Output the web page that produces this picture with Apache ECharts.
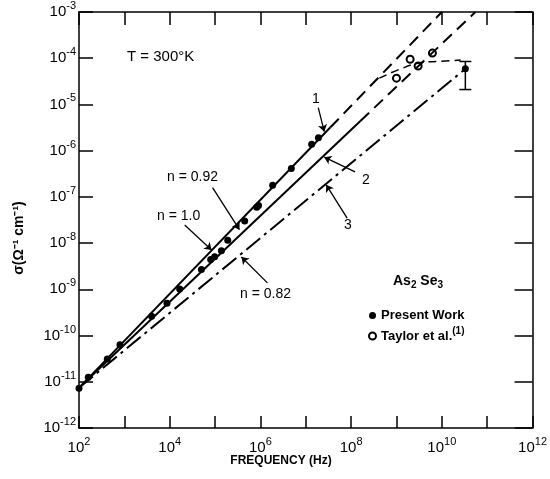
<!DOCTYPE html>
<html lang="en">
<head>
    <meta charset="UTF-8">
    <title>As2Se3 conductivity</title>
    <style>
        html, body { margin: 0; padding: 0; background: #fff; }
    </style>
</head>
<body>

<div id="main" style="width: 550px; height: 479px;"></div>

<script src="https://cdn.jsdelivr.net/npm/echarts@6/dist/echarts.min.js"></script>
<script>
    // present work (filled dots)
    var freq = [1.0e2, 1.6e2, 4.2e2, 8.0e2, 4.0e3, 8.7e3, 1.66e4, 5.0e4, 8.0e4, 9.8e4,
        1.38e5, 1.9e5, 4.5e5, 8.3e5, 9.1e5, 1.86e6, 4.8e6, 1.35e7, 1.9e7, 3.3e10];
    var sigma = [7.2e-12, 1.26e-11, 3.1e-11, 6.3e-11, 2.6e-10, 5.0e-10, 1.02e-9, 2.7e-9, 4.4e-9, 5.1e-9,
        6.8e-9, 1.15e-8, 3.0e-8, 6.0e-8, 6.5e-8, 1.78e-7, 4.1e-7, 1.38e-6, 1.9e-6, 5.9e-5];

    // error bar on the highest frequency point
    var errFreq = [3.3e10];
    var errLow = [2.1e-5];
    var errHigh = [8.5e-5];

    // Taylor et al. (open circles) and their dashed curve
    var taylorFreq = [1.0e9, 2.0e9, 3.0e9, 6.2e9];
    var taylorSigma = [3.7e-5, 9.5e-5, 6.8e-5, 1.29e-4];
    var taylorCurveFreq = [4.2e8, 1.3e9, 3.6e9, 8.5e9, 2.6e10];
    var taylorCurveSigma = [3.7e-5, 6.0e-5, 8.1e-5, 8.5e-5, 9.1e-5];

    // fitted lines 1 (n=1.0), 2 (n=0.92), 3 (n=0.82)
    var line1Freq = [1e2, 3.5e7, 1e10];
    var line1Sigma = [7.4e-12, 3.2e-6, 1e-3];
    var line2Freq = [1e2, 1.6e8, 5.5e10];
    var line2Sigma = [7.4e-12, 4.4e-6, 1e-3];
    var line3Freq = [1e2, 3.3e10];
    var line3Sigma = [7.4e-12, 5.9e-5];

    // arrows [log f, log sigma] from -> to
    var arrows = [
        [[7.275, -5.07], [7.407, -5.59]],
        [[8.088, -6.46], [7.407, -6.14]],
        [[7.912, -7.46], [7.451, -6.74]],
        [[4.945, -6.80], [5.538, -7.71]],
        [[4.330, -7.61], [4.923, -8.15]],
        [[6.154, -8.86], [5.582, -8.30]]
    ];

    function pairs(xs, ys) {
        var out = [];
        for (var i = 0; i < xs.length; i++) out.push([xs[i], ys[i]]);
        return out;
    }

    function supLabel(v) {
        var e = Math.round(Math.log10(v));
        return '{b|10}{s|' + e + '}';
    }

    var FONT = 'Liberation Sans';
    var labelRich = {
        b: {fontSize: 15, fontFamily: FONT, color: '#000'},
        s: {fontSize: 11, fontFamily: FONT, color: '#000', padding: [0, 0, 12, 0]}
    };
    var axisStyle = {color: '#000', width: 1.5};

    var myChart = echarts.init(document.getElementById('main'));

    var option = {
        animation: false,
        grid: {left: 79, right: 16, top: 12, bottom: 51},
        xAxis: [{
            type: 'log', logBase: 10, min: 1e2, max: 1e12, interval: 1,
            axisLine: {lineStyle: axisStyle},
            axisTick: {inside: true, length: 12, lineStyle: axisStyle},
            axisLabel: {
                margin: 8, showMinLabel: true, showMaxLabel: true, rich: labelRich,
                formatter: function (v) {
                    var e = Math.round(Math.log10(v));
                    return e % 2 === 0 ? supLabel(v) : '';
                }
            },
            splitLine: {show: false}, minorTick: {show: false}
        }, {
            type: 'log', logBase: 10, min: 1e2, max: 1e12, interval: 1, position: 'top',
            axisLine: {lineStyle: axisStyle},
            axisTick: {inside: true, length: 13, lineStyle: axisStyle},
            axisLabel: {show: false}, splitLine: {show: false}
        }],
        yAxis: [{
            type: 'log', logBase: 10, min: 1e-12, max: 1e-3, interval: 1,
            axisLine: {lineStyle: axisStyle},
            axisTick: {inside: true, length: 14, lineStyle: axisStyle},
            axisLabel: {margin: 3, rich: labelRich, formatter: supLabel, showMinLabel: true, showMaxLabel: true},
            splitLine: {show: false}
        }, {
            type: 'log', logBase: 10, min: 1e-12, max: 1e-3, interval: 1, position: 'right',
            axisLine: {lineStyle: axisStyle},
            axisTick: {inside: true, length: 18, lineStyle: axisStyle},
            axisLabel: {show: false}, splitLine: {show: false}
        }],
        legend: {
            orient: 'vertical', left: 363, top: 304, itemGap: 4,
            itemWidth: 7, itemHeight: 7,
            textStyle: {
                fontFamily: FONT, fontWeight: 'bold', fontSize: 13, color: '#000',
                rich: {
                    a: {fontFamily: FONT, fontWeight: 'bold', fontSize: 13, color: '#000'},
                    s: {fontFamily: FONT, fontWeight: 'bold', fontSize: 10, color: '#000', padding: [0, 0, 10, 0]}
                }
            },
            formatter: function (name) {
                return name === 'Taylor et al.' ? '{a|Taylor et al.}{s|(1)}' : '{a|' + name + '}';
            },
            data: ['Present Work', 'Taylor et al.']
        },
        series: [
            {
                name: 'line1', type: 'line', symbol: 'none', silent: true,
                data: pairs(line1Freq.slice(0, 2), line1Sigma.slice(0, 2)),
                lineStyle: {color: '#000', width: 2},
                markLine: {
                    silent: true, symbol: ['none', 'arrow'], symbolSize: 7,
                    label: {show: false},
                    lineStyle: {color: '#000', width: 1.3, type: 'solid'},
                    data: arrows.map(function (a) {
                        return [
                            {coord: [Math.pow(10, a[0][0]), Math.pow(10, a[0][1])]},
                            {coord: [Math.pow(10, a[1][0]), Math.pow(10, a[1][1])]}
                        ];
                    })
                }
            },
            {
                name: 'line1dash', type: 'line', symbol: 'none', silent: true,
                data: pairs(line1Freq.slice(1), line1Sigma.slice(1)),
                lineStyle: {color: '#000', width: 2, type: [12, 7]}
            },
            {
                name: 'line2', type: 'line', symbol: 'none', silent: true,
                data: pairs(line2Freq.slice(0, 2), line2Sigma.slice(0, 2)),
                lineStyle: {color: '#000', width: 2}
            },
            {
                name: 'line2dash', type: 'line', symbol: 'none', silent: true,
                data: pairs(line2Freq.slice(1), line2Sigma.slice(1)),
                lineStyle: {color: '#000', width: 2, type: [12, 7]}
            },
            {
                name: 'line3', type: 'line', symbol: 'none', silent: true,
                data: pairs(line3Freq, line3Sigma),
                lineStyle: {color: '#000', width: 2, type: [18, 5, 3, 5]}
            },
            {
                name: 'taylorCurve', type: 'line', symbol: 'none', smooth: 0.4, silent: true,
                data: pairs(taylorCurveFreq, taylorCurveSigma),
                lineStyle: {color: '#000', width: 1.5, type: [8, 5]}
            },
            {
                name: 'errbar', type: 'custom', silent: true,
                data: errFreq.map(function (f, i) { return [f, errLow[i], errHigh[i]]; }),
                encode: {x: 0, y: [1, 2]},
                renderItem: function (params, api) {
                    var top = api.coord([api.value(0), api.value(2)]);
                    var bot = api.coord([api.value(0), api.value(1)]);
                    var w = 6;
                    var st = {stroke: '#000', lineWidth: 1.5};
                    return {
                        type: 'group',
                        children: [
                            {type: 'line', shape: {x1: top[0], y1: top[1], x2: bot[0], y2: bot[1]}, style: st},
                            {type: 'line', shape: {x1: top[0] - w, y1: top[1], x2: top[0] + w, y2: top[1]}, style: st},
                            {type: 'line', shape: {x1: bot[0] - w, y1: bot[1], x2: bot[0] + w, y2: bot[1]}, style: st}
                        ]
                    };
                }
            },
            {
                name: 'Present Work', type: 'scatter', symbol: 'circle', symbolSize: 7,
                itemStyle: {color: '#000', opacity: 1},
                data: pairs(freq, sigma)
            },
            {
                name: 'Taylor et al.', type: 'scatter', symbol: 'emptyCircle', symbolSize: 7,
                itemStyle: {color: '#000', borderColor: '#000', borderWidth: 1.3, opacity: 1},
                data: pairs(taylorFreq, taylorSigma)
            }
        ],
        graphic: [
            {type: 'text', left: 127, top: 49, style: {text: 'T = 300°K', font: '15px Liberation Sans', fill: '#000'}},
            {type: 'text', left: 312, top: 92, style: {text: '1', font: '14px Liberation Sans', fill: '#000'}},
            {type: 'text', left: 362, top: 173, style: {text: '2', font: '14px Liberation Sans', fill: '#000'}},
            {type: 'text', left: 344, top: 218, style: {text: '3', font: '14px Liberation Sans', fill: '#000'}},
            {type: 'text', left: 167, top: 170, style: {text: 'n = 0.92', font: '14px Liberation Sans', fill: '#000'}},
            {type: 'text', left: 157, top: 209, style: {text: 'n = 1.0', font: '14px Liberation Sans', fill: '#000'}},
            {type: 'text', left: 240, top: 287, style: {text: 'n = 0.82', font: '14px Liberation Sans', fill: '#000'}},
            {
                type: 'text', x: 281, y: 461,
                style: {text: 'FREQUENCY (Hz)', font: 'bold 12px Liberation Sans', fill: '#000', align: 'center', verticalAlign: 'middle'}
            },
            {
                type: 'text', x: 19, y: 238, rotation: Math.PI / 2,
                style: {text: 'σ(Ω⁻¹ cm⁻¹)', font: 'bold 14px Liberation Sans', fill: '#000', align: 'center', verticalAlign: 'middle'}
            },
            {
                type: 'text', left: 393, top: 274,
                style: {
                    text: '{a|As}{b|2}{a| Se}{b|3}',
                    rich: {
                        a: {fontFamily: FONT, fontWeight: 'bold', fontSize: 14, fill: '#000'},
                        b: {fontFamily: FONT, fontWeight: 'bold', fontSize: 10, fill: '#000', padding: [8, 0, 0, 0]}
                    }
                }
            }
        ]
    };
    myChart.setOption(option);
</script>
</body>
</html>
